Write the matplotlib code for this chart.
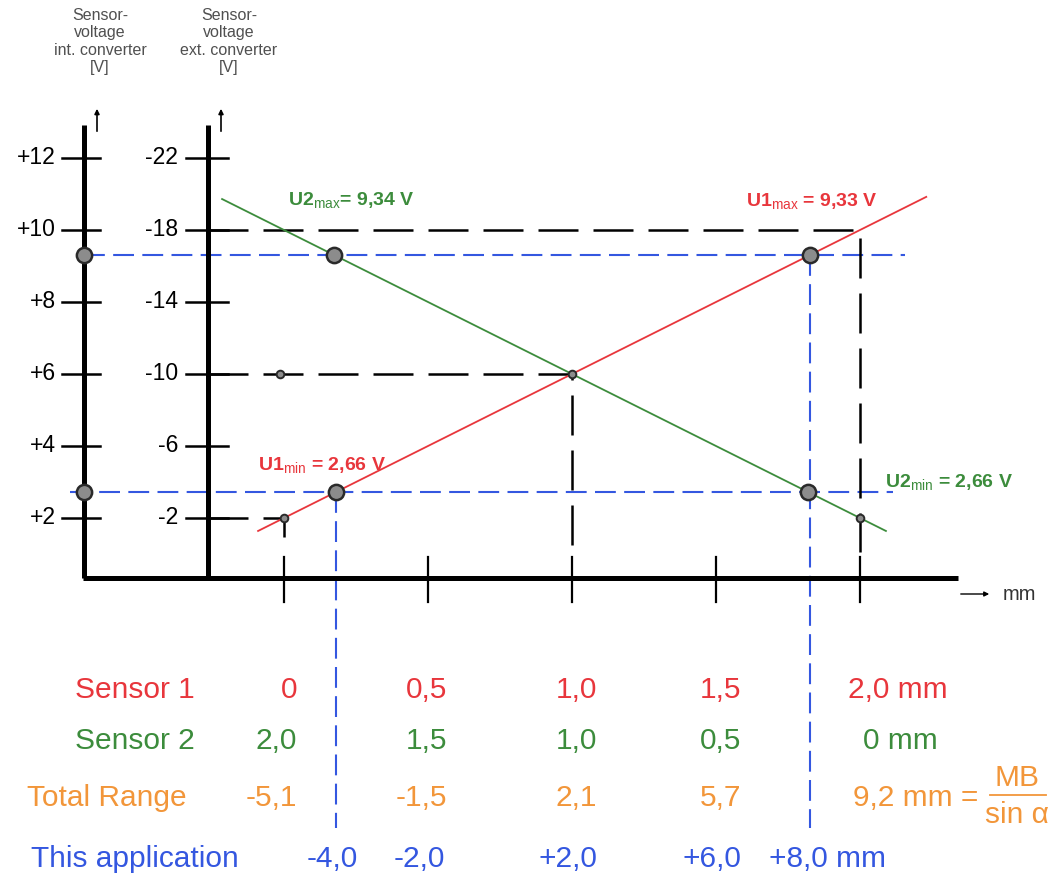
import numpy as np
import matplotlib
matplotlib.use("Agg")
import matplotlib.pyplot as plt

plt.rcParams['font.family'] = ['Liberation Sans', 'DejaVu Sans']
plt.rcParams['mathtext.fontset'] = 'custom'
plt.rcParams['mathtext.rm'] = 'Liberation Sans'
plt.rcParams['mathtext.it'] = 'Liberation Sans:italic'

# ---- values ----
int_ticks = [2, 4, 6, 8, 10, 12]          # sensor voltage, internal converter [V]
ext_ticks = [-2, -6, -10, -14, -18, -22]  # sensor voltage, external converter [V]
mm_ticks = [0.0, 0.5, 1.0, 1.5, 2.0]      # travel of sensor 1 [mm]

s1_mm = [0.0, 2.0]
s1_volt = [2.0, 10.0]
s2_mm = [0.0, 2.0]
s2_volt = [10.0, 2.0]

u_low = 2.72    # blue level (U min)
u_high = 9.31   # blue level (U max)

row_labels = ['Sensor 1', 'Sensor 2', 'Total Range', 'This application']
sensor1 = ['0', '0,5', '1,0', '1,5', '2,0 mm']
sensor2 = ['2,0', '1,5', '1,0', '0,5', '0 mm']
total_range = ['-5,1', '-1,5', '2,1', '5,7', '9,2 mm =']
this_app = ['-4,0', '-2,0', '+2,0', '+6,0', '+8,0 mm']

RED = '#e8363c'
GREEN = '#3c8c3c'
ORANGE = '#f2963a'
BLUE = '#3457e0'
GREY = '#8c8c8c'

# ---- layout: 288 px per mm, 36 px per volt, origin 0mm/2V at (284, 518) px ----
W, H = 1055, 877
X0, Y2, PX_MM, PX_V = 284, 518, 288.0, 36.0


def mx(px):
    return (px - X0) / PX_MM


def vy(py):
    return 2 + (Y2 - py) / PX_V


def ext_to_int(v):
    return (2 - v) / 2.0


fig = plt.figure(figsize=(W / 100, H / 100), dpi=100)
ax = fig.add_axes([0, 0, 1, 1])
ax.set_xlim(mx(0), mx(W))
ax.set_ylim(vy(H), vy(0))
ax.axis('off')

x_int, x_ext = mx(84), mx(208)
y_base = vy(578)
y_top = vy(125)

# axes
ax.plot([x_int, x_int], [y_base, y_top], color='black', lw=3.6, solid_capstyle='butt', zorder=5)
ax.plot([x_ext, x_ext], [y_base, y_top], color='black', lw=3.6, solid_capstyle='butt', zorder=5)
ax.plot([x_int - 0.005, mx(958)], [y_base, y_base], color='black', lw=3.6, solid_capstyle='butt', zorder=5)

for v in int_ticks:
    ax.plot([mx(62), mx(100)], [v, v], color='black', lw=1.8, zorder=5)
    ax.text(mx(56), v, '+%d' % v, ha='right', va='center', fontsize=16.5)
for v in ext_ticks:
    ax.plot([mx(186), mx(228)], [ext_to_int(v)] * 2, color='black', lw=1.8, zorder=5)
    ax.text(mx(178), ext_to_int(v), '%d' % v, ha='right', va='center', fontsize=16.5)
for m in mm_ticks:
    ax.plot([m, m], [vy(557), vy(602)], color='black', lw=1.6, zorder=5)

# small arrows + titles
for xa in (mx(97), mx(221)):
    ax.annotate('', xy=(xa, vy(106)), xytext=(xa, vy(134)),
                arrowprops=dict(arrowstyle='-|>', lw=1.2, color='black', mutation_scale=7))
ax.text(mx(100), vy(8), 'Sensor-\nvoltage\nint. converter\n[V]', ha='center', va='top',
        fontsize=11.5, color='#505050', linespacing=1.2)
ax.text(mx(229), vy(8), 'Sensor-\nvoltage\next. converter\n[V]', ha='center', va='top',
        fontsize=11.5, color='#505050', linespacing=1.2)
ax.annotate('', xy=(mx(992), vy(594)), xytext=(mx(958), vy(594)),
            arrowprops=dict(arrowstyle='-|>', lw=1.0, color='black', mutation_scale=7))
ax.text(mx(1003), vy(594), 'mm', ha='left', va='center', fontsize=14.5, color='#333333')

# black dashed construction lines
dash_k = (0, (16, 6))
ax.plot([x_ext, mm_ticks[4], mm_ticks[4]], [ext_to_int(-18), ext_to_int(-18), vy(552)],
        color='black', lw=1.8, ls=dash_k, zorder=3)
ax.plot([x_ext, mm_ticks[2], mm_ticks[2]], [ext_to_int(-10), ext_to_int(-10), vy(552)],
        color='black', lw=1.8, ls=dash_k, zorder=3)
ax.plot([x_ext, mm_ticks[0], mm_ticks[0]], [ext_to_int(-2), ext_to_int(-2), vy(552)],
        color='black', lw=1.8, ls=dash_k, zorder=3)

# sensor characteristics
p1 = np.polyfit(s1_mm, s1_volt, 1)
p2 = np.polyfit(s2_mm, s2_volt, 1)
r_span = np.array([-0.09, 2.23])
g_span = np.array([-0.215, 2.09])
ax.plot(r_span, np.polyval(p1, r_span), color=RED, lw=1.3, zorder=4)
ax.plot(g_span, np.polyval(p2, g_span), color=GREEN, lw=1.3, zorder=4)

# blue application limits
x_r_lo = (u_low - p1[1]) / p1[0]
x_r_hi = (u_high - p1[1]) / p1[0]
x_g_lo = (u_low - p2[1]) / p2[0]
x_g_hi = (u_high - p2[1]) / p2[0]
dash_b = (0, (10, 4))
ax.plot([x_int, mx(905)], [u_high, u_high], color=BLUE, lw=1.5, ls=dash_b, zorder=2)
ax.plot([mx(70), mx(893)], [u_low, u_low], color=BLUE, lw=1.5, ls=dash_b, zorder=2)
ax.plot([x_r_lo, x_r_lo], [u_low, vy(828)], color=BLUE, lw=1.5, ls=dash_b, zorder=2)
ax.plot([x_r_hi, x_r_hi], [u_high, vy(828)], color=BLUE, lw=1.5, ls=dash_b, zorder=2)

# points
big_x = [x_int, x_int, x_g_hi, x_r_hi, x_r_lo, x_g_lo]
big_y = [u_high, u_low, u_high, u_high, u_low, u_low]
ax.plot(big_x, big_y, 'o', ms=11, mfc=GREY, mec='#2a2a2a', mew=1.8, zorder=7)
small_x = [mx(280), mm_ticks[0], mm_ticks[2], mm_ticks[4]]
small_y = [ext_to_int(-10), np.polyval(p1, 0.0), np.polyval(p1, 1.0), np.polyval(p2, 2.0)]
ax.plot(small_x, small_y, 'o', ms=5.5, mfc=GREY, mec='#2a2a2a', mew=1.4, zorder=7)

# voltage labels
lab_fs = 14
ax.text(mx(288), vy(200), r'U2$_{\mathrm{max}}$= 9,34 V', color=GREEN, fontsize=lab_fs,
        fontweight='bold', ha='left', va='center')
ax.text(mx(746), vy(201), r'U1$_{\mathrm{max}}$ = 9,33 V', color=RED, fontsize=lab_fs,
        fontweight='bold', ha='left', va='center')
ax.text(mx(258), vy(465), r'U1$_{\mathrm{min}}$ = 2,66 V', color=RED, fontsize=lab_fs,
        fontweight='bold', ha='left', va='center')
ax.text(mx(885), vy(482), r'U2$_{\mathrm{min}}$ = 2,66 V', color=GREEN, fontsize=lab_fs,
        fontweight='bold', ha='left', va='center')

# table underneath
row_y = [vy(690), vy(741), vy(798), vy(859)]
row_colors = [RED, GREEN, ORANGE, BLUE]
rows = [sensor1, sensor2, total_range, this_app]
label_right = [mx(195), mx(195), mx(187), mx(239)]
col_right = [mx(297), mx(447), mx(597), mx(741)]
app_right = [mx(358), mx(445), mx(597), mx(741)]
last_x = [mx(898), mx(900), mx(853), mx(769)]
last_ha = ['center', 'center', 'left', 'left']
fs = 21.5

for i, (lab, vals) in enumerate(zip(row_labels, rows)):
    c = row_colors[i]
    ax.text(label_right[i], row_y[i], lab, color=c, fontsize=fs, ha='right', va='center')
    xr = app_right if i == 3 else col_right
    for j in range(4):
        ax.text(xr[j], row_y[i], vals[j], color=c, fontsize=fs, ha='right', va='center')
    ax.text(last_x[i], row_y[i], vals[4], color=c, fontsize=fs, ha=last_ha[i], va='center')

# MB / sin(alpha)
ax.text(mx(1017), vy(778), 'MB', color=ORANGE, fontsize=fs, ha='center', va='center')
ax.plot([mx(990), mx(1046)], [vy(795), vy(795)], color=ORANGE, lw=1.3)
ax.text(mx(1017), vy(815), 'sin \u03b1', color=ORANGE, fontsize=fs, ha='center', va='center')

fig.savefig('out.png', dpi=100)
